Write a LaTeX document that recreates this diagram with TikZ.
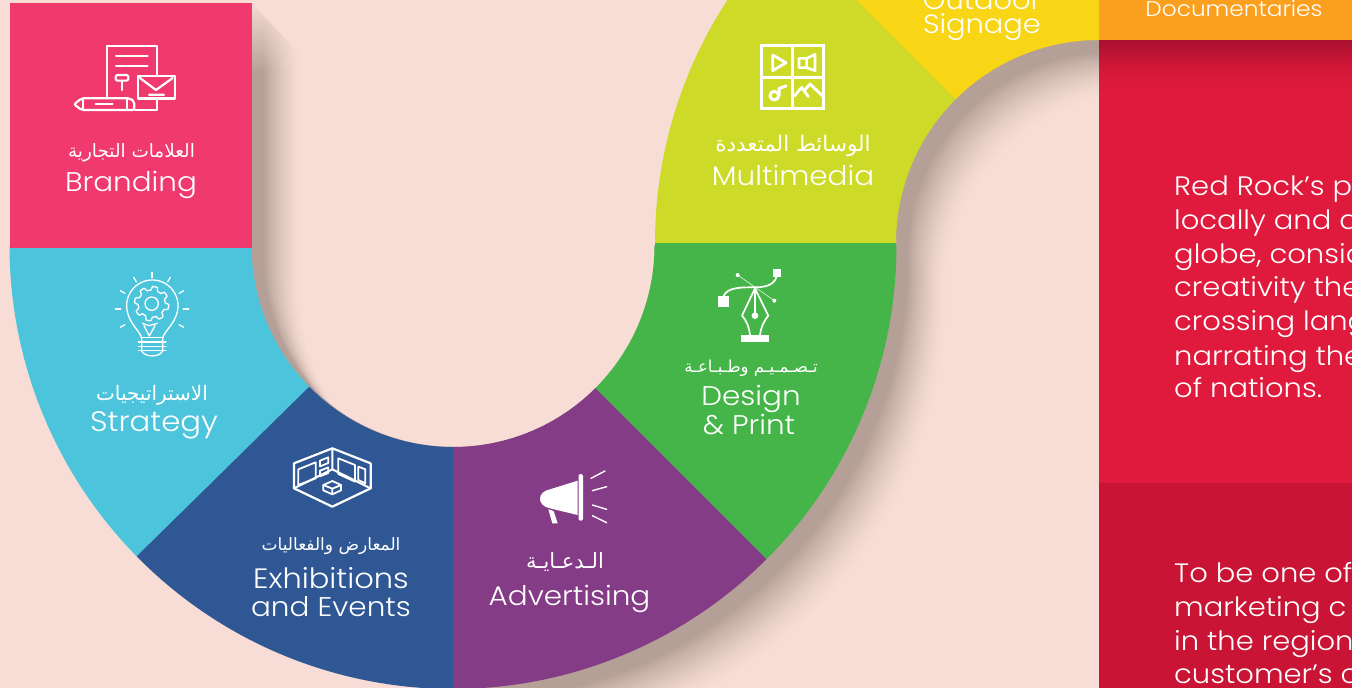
\documentclass[tikz,border=0pt]{standalone}
\usepackage{fontspec}
\TeXXeTstate=1
\newfontfamily\latf[FakeStretch=1.09]{Poppins Light}
\newfontfamily\arabf[Script=Arabic]{DejaVu Sans}
\definecolor{bgc}{HTML}{F7DDD5}
\definecolor{shc}{HTML}{B5A098}
\definecolor{cpink}{HTML}{F03A6E}
\definecolor{ccyan}{HTML}{4CC5DC}
\definecolor{cblue}{HTML}{2F5794}
\definecolor{cpurple}{HTML}{843C87}
\definecolor{cgreen}{HTML}{45B549}
\definecolor{clime}{HTML}{CDDB28}
\definecolor{cyellow}{HTML}{F8D515}
\definecolor{corange}{HTML}{FBA01E}
\definecolor{cred}{HTML}{DF1A3C}
\definecolor{cdred}{HTML}{C91435}
\definecolor{cshred}{HTML}{A9102E}
\newcommand\arcseg[7]{\fill[#1] plot[domain=#6:#7,samples=80] ({#2+#5*cos(\x)},{#3+#5*sin(\x)}) -- plot[domain=#7:#6,samples=80] ({#2+#4*cos(\x)},{#3+#4*sin(\x)}) -- cycle;}
\newcommand\ars[1]{\fontsize{#1}{#1}\selectfont}
\tikzset{
  txt/.style={text=white,inner sep=0pt,anchor=base,align=center},
  big/.style={txt,font=\latf\fontsize{27}{27}\selectfont},
  doc/.style={txt,font=\latf\fontsize{21.3}{21.3}\selectfont},
  body/.style={txt,anchor=base west,font=\latf\fontsize{26.6}{26.6}\selectfont},
  arb/.style={txt,font=\arabf},
  zoomed/.style={shift={(#1)},x=0.33333pt,y=-0.33333pt},
  ico/.style={draw=white,line width=#1,line join=round,line cap=round},
  ico/.default=1.6
}
\begin{document}
\begin{tikzpicture}[x=1pt,y=-1pt]
\clip (0,0) rectangle (1352,688);
\useasboundingbox (0,0) rectangle (1352,688);
\fill[bgc] (0,0) rectangle (1352,688);
% soft shadow of the ribbon: shifted copies from far (faint) to near (dark)
\foreach \k in {52,51,...,1}{
  \pgfmathsetmacro\mixv{100*pow(min(1,1.3*(1-\k/53)),1.5)}
  \pgfmathsetmacro\sx{\k*0.95}
  \pgfmathsetmacro\sy{\k*1.0}
  \begin{scope}[shift={(\sx,\sy)}]
  \fill[fill={shc!\mixv!bgc}]
    (60,3) -- (252,3) -- (252,245)
    -- plot[domain=180:0,samples=60] ({453+201*cos(\x)},{245+201*sin(\x)})
    -- (654,245) -- plot[domain=180:270,samples=40] ({1099+444*cos(\x)},{243+444*sin(\x)})
    -- (1400,-201) -- (1400,40) -- (1099,40)
    -- plot[domain=270:180,samples=40] ({1099+203*cos(\x)},{243+203*sin(\x)})
    -- plot[domain=0:90,samples=40] ({453+443.5*cos(\x)},{245+443.5*sin(\x)})
    -- (60,248) -- cycle;
  \end{scope}
}
% the shadow beside the pink box fades out towards the top
\foreach \j in {0,...,35}{
  \pgfmathsetmacro\op{1-\j/36}
  \fill[bgc,opacity=\op] (252,{2*\j}) rectangle (345,{2*\j+2});
}
% right column
\fill[corange] (1099,-2) rectangle (1352,40);
\fill[cred] (1099,40) rectangle (1352,483);
\shade[top color=cshred,bottom color=cred,middle color=cred!72!cshred] (1099,40) rectangle (1352,90);
\fill[cdred] (1099,483) rectangle (1352,690);
% ribbon
\arcseg{ccyan}{453}{245.5}{201.5}{443.5}{135}{180}
\arcseg{cblue}{453}{245.5}{201.5}{443.5}{90}{135.5}
\arcseg{cpurple}{453}{245.5}{201.5}{443.5}{45}{90}
\arcseg{cgreen}{453}{245.5}{201.5}{443.5}{0}{45}
\arcseg{clime}{1099}{243}{203}{444}{180}{225}
\arcseg{cyellow}{1099}{243}{203}{444}{225}{270}
\fill[cgreen] (655,242.6) rectangle (896,246);
\fill[cpink] (10,3) rectangle (252,248);
% ---- branding icon
\begin{scope}[zoomed={0,0}]
\draw[ico=2.1] (322,295) -- (322,137) -- (471,137) -- (471,228) (471,298) -- (471,330) -- (405,330);
\draw[ico=2] (348,167) -- (443,167) (348,199) -- (443,199);
\draw[ico=2.1,rounded corners=2pt] (347,225) -- (385,225) -- (385,242) -- (347,242) -- cycle;
\draw[ico=2.1] (367,242) -- (367,270);
\draw[ico=2.6] (414,228) rectangle (525,296);
\draw[ico=2.2] (420,234) -- (468,270) -- (518,234) (447,284) -- (492,284);
\draw[ico=2.2,rounded corners=2pt] (403,330) -- (245,330) -- (222,313) -- (245,295) -- (390,295) -- (403,305) -- cycle;
\draw[ico=1.9] (250,295) -- (250,330) (380,295) -- (380,330) (287,313) -- (338,313);
\end{scope}
% ---- bulb icon
\begin{scope}[zoomed={80,260}]
\draw[ico=1.3] (185,233) -- (185,275) (248,233) -- (248,275)
  (185,233) .. controls (178,210) and (140,185) .. (140,137)
  -- plot[domain=180:360,samples=60] ({217+77*cos(\x)},{137+77*sin(\x)})
  .. controls (294,185) and (255,210) .. (248,233);
\draw[ico=1.3] (183,233) -- (250,233) (175,246) -- (258,246) (175,259) -- (258,259) (175,272) -- (258,272);
\draw[ico=1.3] (187,275) .. controls (195,292) and (238,292) .. (246,275);
\draw[ico=1.3] (192,197) -- (208,228) -- (225,197) (187,190) -- (207,197) -- (232,190);
\foreach \a in {0,30,60,90,120,150,180,210,330}{
  \draw[ico=1.3] ({216+94*cos(\a)},{147-94*sin(\a)}) -- ({216+110*cos(\a)},{147-110*sin(\a)});
}
\draw[ico=1.3] plot[domain=0:360,samples=241] ({215+(46+5.5*max(-1,min(1,2.2*sin(8*\x))))*cos(\x)},{131+(46+5.5*max(-1,min(1,2.2*sin(8*\x))))*sin(\x)}) -- cycle;
\draw[ico=1.3] (215,131) circle[radius=20];
\end{scope}
% ---- exhibition icon
\begin{scope}[zoomed={240,430}]
\draw[ico=2.2] (277,55) -- (392,100) -- (392,175) -- (277,230) -- (162,175) -- (162,100) -- cycle;
\draw[ico=2] (162,175) -- (277,118) -- (392,175) (277,55) -- (277,118);
\draw[ico=1.8] (175,118) -- (227,97) -- (227,145) -- (175,165) -- cycle;
\draw[ico=1.8] (240,92) -- (265,82) -- (265,99) -- (240,109) -- cycle;
\draw[ico=1.8] (240,122) -- (265,112) -- (265,129) -- (240,139) -- cycle;
\draw[ico=1.8] (295,85) -- (345,105) -- (345,155) -- (295,132) -- cycle;
\draw[ico=1.8] (355,110) -- (376,118) -- (376,160) -- (355,150) -- cycle;
\draw[ico=1.8] (277,153) -- (303,165) -- (303,181) -- (277,193) -- (250,181) -- (250,165) -- cycle;
\draw[ico=1.8] (250,165) -- (277,176) -- (303,165) (277,176) -- (277,193);
\end{scope}
% ---- megaphone icon
\begin{scope}[zoomed={240,430}]
\fill[white] (1013,152) -- (930,178) .. controls (890,185) and (890,228) .. (930,235) -- (1013,255) -- cycle;
\fill[white,rounded corners=1.5pt] (1016,132) rectangle (1029,272);
\fill[white] (925,238) -- (937,280) -- (953,280) -- (941,243) -- cycle;
\draw[ico=1.4] (1053,145) -- (1095,123) (1057,182) -- (1100,170) (1057,225) -- (1100,238) (1057,257) -- (1100,278);
\end{scope}
% ---- pen icon
\begin{scope}[zoomed={660,250}]
\fill[white] (174,139) rectangle (207,172);
\fill[white] (340,57) rectangle (362,80);
\draw[ico=1.7] (190,140) .. controls (200,110) and (250,112) .. (285,112) .. controls (325,112) and (345,100) .. (350,78);
\draw[white,line width=0.5] (233,75) -- (343,152);
\fill[white] (233,75) circle[radius=6] (343,152) circle[radius=6];
\draw[ico=1.7] (285,115) -- (246,197) .. controls (262,215) and (268,235) .. (270,255) (285,115) -- (325,197) .. controls (310,215) and (302,235) .. (300,255) (285,115) -- (285,197);
\fill[white] (285,197) circle[radius=10];
\fill[white] (243,256) rectangle (327,275);
\end{scope}
% ---- media icon
\begin{scope}[zoomed={680,0}]
\draw[ico=3,line cap=butt,line join=miter] (243,138) rectangle (430,325) (336,138) -- (336,325) (243,232) -- (430,232);
\draw[ico=2.8] (278,165) -- (318,188) -- (278,212) -- cycle;
\draw[ico=2.6] (357,175) -- (380,175) -- (405,163) -- (405,212) -- (380,203) -- (357,203) -- cycle (380,175) -- (380,203);
\draw[ico=3] (283,287) circle[radius=13];
\draw[ico=3] (297,287) -- (297,265) -- (318,258);
\draw[ico=2.8] (343,288) -- (365,262) -- (385,290) (373,272) -- (390,252) -- (428,288);
\end{scope}
% ---- labels
\node[arb] (a1) at (131.5,157) {\ars{18.4}\beginR العلامات التجارية\endR};
\node[big] (t1) at (131,191.7) {Branding};
\node[arb] (a2) at (152,400) {\ars{20}\beginR الاستراتيجيات\endR};
\node[big,font=\latf\fontsize{28.2}{28.2}\selectfont] (t2) at (154,431.7) {Strategy};
\node[arb] (a3) at (331,550) {\ars{17}\beginR المعارض والفعاليات\endR};
\node[big,font=\latf\fontsize{28}{28}\selectfont] (t3a) at (331,588.3) {Exhibitions};
\node[big] (t3b) at (331,616.7) {and Events};
\node[arb] (a4) at (565,568) {\ars{21}\beginR الـدعـايـة\endR};
\node[big] (t4) at (569.5,605) {Advertising};
\node[arb] (a5) at (751,372) {\ars{16.5}\beginR تـصـمـيـم وطـبـاعـة\endR};
\node[big] (t5a) at (751,405) {Design};
\node[big] (t5b) at (749,434) {\& Print};
\node[arb] (a6) at (793,151) {\ars{21.5}\beginR الوسائط المتعددة\endR};
\node[big] (t6) at (793,185) {Multimedia};
\node[big,font=\latf\fontsize{26.5}{26.5}\selectfont] (t7a) at (982,9.5) {Outdoor};
\node[big,font=\latf\fontsize{26.5}{26.5}\selectfont] (t7b) at (982,33.3) {Signage};
\node[doc] (t8) at (1234,16.5) {Documentaries};
\node[body] (b1) at (1174,195.7) {Red Rock’s p};
\node[body] (b2) at (1174,229.3) {locally and a};
\node[body] (b3) at (1174,263.3) {globe, consid};
\node[body] (b4) at (1174,296.7) {creativity the};
\node[body] (b5) at (1174,330.7) {crossing lang};
\node[body] (b6) at (1174,365) {narrating the};
\node[body] (b7) at (1174,397.3) {of nations.};
\node[body] (c1) at (1174,582.7) {To be one of};
\node[body] (c2) at (1174,616.7) {marketing c};
\node[body] (c3) at (1174,650.7) {in the region};
\node[body] (c4) at (1174,683.3) {customer’s c};
\end{tikzpicture}
\end{document}
